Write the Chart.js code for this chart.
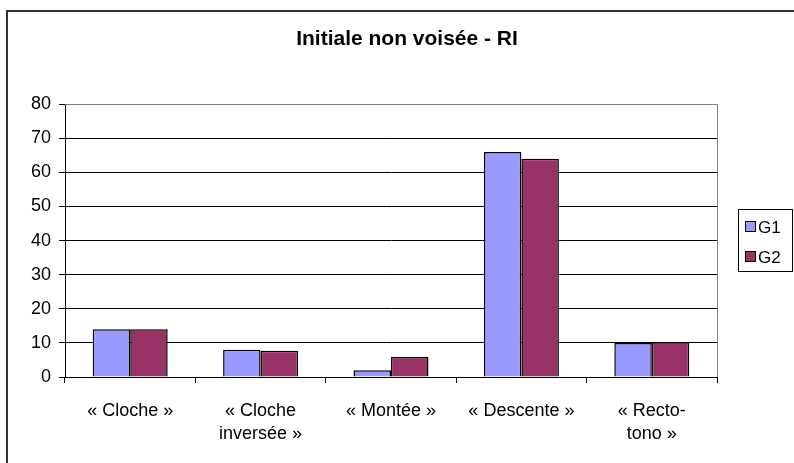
<!DOCTYPE html>
<html>
<head>
<meta charset="utf-8">
<script src="https://cdn.jsdelivr.net/npm/chart.js@4/dist/chart.umd.min.js"></script>
<style>
  html, body { margin: 0; padding: 0; background: #fff; }
  #wrap { position: relative; width: 794px; height: 463px; }
</style>
</head>
<body>
<div id="wrap"><canvas id="c" width="794" height="463"></canvas></div>
<script>
// Categories and series values
const categories = [
  "« Cloche »",
  ["« Cloche", "inversée »"],
  "« Montée »",
  "« Descente »",
  ["« Recto-", "tono »"]
];
const g1Values = [14, 8, 2, 66, 10];
const g2Values = [14, 7.7, 5.9, 64, 10.2];
const seriesNames = ["G1", "G2"];
const yTicks = { min: 0, max: 80, step: 10 };
const chartTitle = "Initiale non voisée - RI";

const FONT = "'Liberation Sans', Arial, sans-serif";

// Outer frame, plot-area edge and boxed legend
const decor = {
  id: 'decor',
  beforeDraw(chart) {
    const ctx = chart.ctx;
    ctx.save();
    ctx.fillStyle = '#fff';
    ctx.fillRect(0, 0, chart.width, chart.height);
    ctx.strokeStyle = '#333';
    ctx.lineWidth = 2;
    ctx.beginPath();
    ctx.moveTo(7, chart.height + 2);
    ctx.lineTo(7, 11);
    ctx.lineTo(chart.width + 2, 11);
    ctx.stroke();
    ctx.restore();
  },
  beforeDatasetsDraw(chart) {
    const a = chart.chartArea;
    const ctx = chart.ctx;
    ctx.save();
    ctx.strokeStyle = '#808080';
    ctx.lineWidth = 1;
    ctx.beginPath();
    ctx.moveTo(a.left, Math.round(a.top) + 0.5);
    ctx.lineTo(Math.round(a.right) + 0.5, Math.round(a.top) + 0.5);
    ctx.lineTo(Math.round(a.right) + 0.5, a.bottom);
    ctx.stroke();
    ctx.restore();
  },
  afterDraw(chart) {
    const ctx = chart.ctx;
    const bx = 738.5, by = 209.5, bw = 54, bh = 62;
    ctx.save();
    ctx.strokeStyle = '#000';
    ctx.lineWidth = 1;
    ctx.strokeRect(bx, by, bw, bh);
    ctx.font = '17px ' + FONT;
    ctx.textBaseline = 'middle';
    chart.data.datasets.forEach((ds, i) => {
      const cy = 227 + i * 30;
      ctx.fillStyle = ds.backgroundColor;
      ctx.fillRect(746, cy - 5, 9, 9);
      ctx.strokeStyle = '#000';
      ctx.strokeRect(745.5, cy - 5.5, 10, 10);
      ctx.fillStyle = '#000';
      ctx.fillText(ds.label, 758, cy + 1);
    });
    ctx.restore();
  }
};

new Chart(document.getElementById('c'), {
  type: 'bar',
  data: {
    labels: categories,
    datasets: [
      { label: seriesNames[0], data: g1Values, backgroundColor: '#9999FF', borderColor: '#000', borderWidth: 1.5 },
      { label: seriesNames[1], data: g2Values, backgroundColor: '#993366', borderColor: '#000', borderWidth: 1.5 }
    ]
  },
  options: {
    responsive: false,
    animation: false,
    devicePixelRatio: 1,
    categoryPercentage: 0.575,
    barPercentage: 1,
    layout: { padding: { left: 20, right: 0, top: 0, bottom: 0 } },
    plugins: {
      legend: { display: false },
      tooltip: { enabled: false },
      title: {
        display: true,
        text: chartTitle,
        color: '#000',
        font: { family: FONT, size: 21, weight: 'bold' },
        padding: { top: 27, bottom: 52 }
      }
    },
    scales: {
      x: {
        grid: { drawOnChartArea: false, drawTicks: true, tickLength: 6, color: '#000' },
        border: { color: '#000', width: 1 },
        ticks: { color: '#000', font: { family: FONT, size: 18, lineHeight: 1.3 }, padding: 16, maxRotation: 0, autoSkip: false },
        afterFit(s) { s.height = 86; }
      },
      y: {
        min: yTicks.min,
        max: yTicks.max,
        grid: { color: '#000', lineWidth: 1, tickLength: 6 },
        border: { color: '#000', width: 1 },
        ticks: { stepSize: yTicks.step, color: '#000', font: { family: FONT, size: 18 }, padding: 8 },
        afterFit(s) { s.width = 45; }
      },
      // empty band on the right that holds the legend
      legendBand: {
        type: 'linear',
        position: 'right',
        grid: { display: false, drawTicks: false },
        border: { display: false },
        ticks: { display: false },
        afterFit(s) { s.width = 77; }
      }
    }
  },
  plugins: [decor]
});
</script>
</body>
</html>
